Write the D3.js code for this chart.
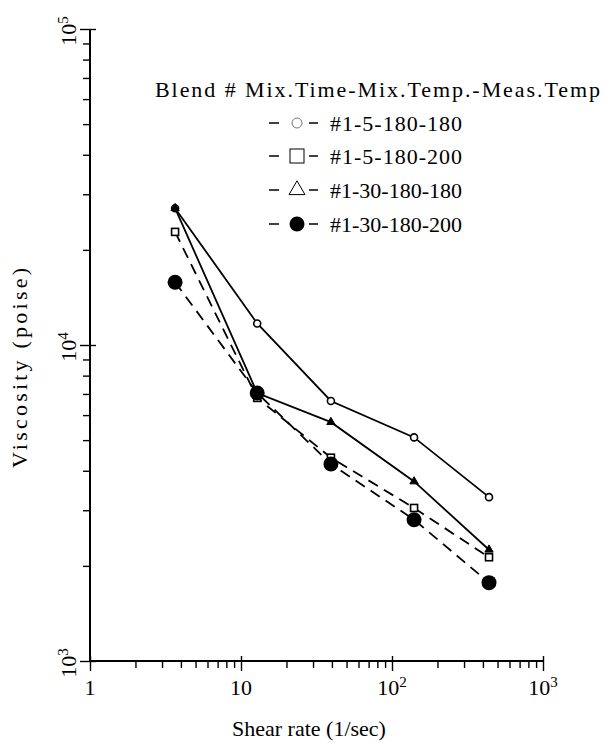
<!DOCTYPE html>
<html>
<head>
<meta charset="utf-8">
<script src="https://cdn.jsdelivr.net/npm/d3@7"></script>
<style>
  body { margin: 0; background: white; }
  text { font-family: "Liberation Serif", "DejaVu Serif", serif; fill: black; }
</style>
</head>
<body>
<div id="wykres"></div>
<script>

// shear rate (1/sec) and viscosity (poise)
var shearRate = [3.66, 12.8, 39.4, 140, 439];
var visc_5_180_180 = [27100, 11700, 6650, 5100, 3300];
var visc_5_180_200 = [22800, 6800, 4400, 3050, 2130];
var visc_30_180_180 = [27100, 7050, 5700, 3700, 2250];
var visc_30_180_200 = [15800, 7050, 4200, 2800, 1770];

var seriesNames = ["#1-5-180-180", "#1-5-180-200", "#1-30-180-180", "#1-30-180-200"];
var seriesMarkers = ["circle", "square", "triangle", "dot"];
var seriesDashed = [false, true, false, true];

var xTickValues = [1, 10, 100, 1000];
var xTickExp = ["", "", "2", "3"];
var xTickBase = ["1", "10", "10", "10"];
var yTickValues = [1e3, 1e4, 1e5];
var yTickExp = ["3", "4", "5"];

var legendTitle = "Blend # Mix.Time-Mix.Temp.-Meas.Temp";
var xTitle = "Shear rate (1/sec)";
var yTitle = "Viscosity (poise)";

var allSeries = [visc_5_180_180, visc_5_180_200, visc_30_180_180, visc_30_180_200];

var width = 606, height = 747;

var svg = d3.select("#wykres")
  .append("svg")
  .attr("width", width)
  .attr("height", height)
  .style("background", "white");

var xscale = d3.scaleLog()
  .domain([1, 1000])
  .range([90, 543]);

var yscale = d3.scaleLog()
  .domain([1000, 100000])
  .range([661, 29]);

// minor ticks 2..9 in every decade
var xMinor = [], yMinor = [];
[1, 10, 100].forEach(function (d) {
  for (var k = 2; k <= 9; k++) xMinor.push(d * k);
});
[1000, 10000].forEach(function (d) {
  for (var k = 2; k <= 9; k++) yMinor.push(d * k);
});

// x axis
var xAxis = svg.append("g")
  .attr("transform", "translate(0,661)");

xAxis.call(d3.axisBottom(xscale).tickValues(xMinor).tickSize(7).tickFormat(""));
xAxis.append("g").call(d3.axisBottom(xscale).tickValues(xTickValues).tickSize(10).tickFormat(""));
xAxis.selectAll("path.domain").attr("stroke-width", 2).attr("d", "M90,0H543");
xAxis.selectAll(".tick line").attr("stroke-width", 1.4);

// y axis
var yAxis = svg.append("g")
  .attr("transform", "translate(90,0)");

yAxis.call(d3.axisLeft(yscale).tickValues(yMinor).tickSize(7).tickFormat(""));
yAxis.append("g").call(d3.axisLeft(yscale).tickValues(yTickValues).tickSize(10).tickFormat(""));
yAxis.selectAll("path.domain").attr("stroke-width", 2).attr("d", "M0,661V29");
yAxis.selectAll(".tick line").attr("stroke-width", 1.4);

// major ticks go through the axis
yAxis.selectAll("g g .tick line").attr("x2", -10).attr("x1", 6);
xAxis.selectAll("g g .tick line").attr("y1", -5);

// x tick labels
var xLab = svg.append("g")
  .selectAll("text")
  .data(xTickValues)
  .enter().append("text")
  .attr("x", function (d) { return xscale(d); })
  .attr("y", 695)
  .attr("text-anchor", "middle")
  .style("font-size", "22px");

xLab.append("tspan").text(function (d, i) { return xTickBase[i]; });
xLab.append("tspan")
  .attr("dy", -8)
  .style("font-size", "15px")
  .text(function (d, i) { return xTickExp[i]; });

// y tick labels, rotated
var yLab = svg.append("g")
  .selectAll("text")
  .data(yTickValues)
  .enter().append("text")
  .attr("transform", function (d) { return "translate(76," + (yscale(d) + 2) + ")rotate(-90)"; })
  .attr("text-anchor", "middle")
  .style("font-size", "22px");

yLab.append("tspan").text("10");
yLab.append("tspan")
  .attr("dy", -8)
  .style("font-size", "15px")
  .text(function (d, i) { return yTickExp[i]; });

// axis titles
svg.append("text")
  .attr("x", 309)
  .attr("y", 736)
  .attr("text-anchor", "middle")
  .style("font-size", "22px")
  .text(xTitle);

svg.append("text")
  .attr("transform", "translate(27,368)rotate(-90)")
  .attr("text-anchor", "middle")
  .attr("textLength", 200)
  .style("font-size", "22px")
  .text(yTitle);

// lines
var line = d3.line()
  .x(function (d, i) { return xscale(shearRate[i]); })
  .y(function (d) { return yscale(d); });

allSeries.forEach(function (s, k) {
  svg.append("path")
    .datum(s)
    .attr("fill", "none")
    .attr("stroke", "black")
    .attr("stroke-width", 1.8)
    .attr("stroke-dasharray", seriesDashed[k] ? "11,7" : null)
    .attr("d", line);
});

function drawMarker(g, type, big) {
  if (type == "circle") {
    g.append("circle").attr("r", big ? 5 : 3.5)
      .attr("fill", "white").attr("stroke", big ? "#777" : "black").attr("stroke-width", big ? 1 : 1.6);
  } else if (type == "square") {
    var h = big ? 7 : 3.5;
    g.append("rect").attr("x", -h).attr("y", -h).attr("width", 2 * h).attr("height", 2 * h)
      .attr("fill", "white").attr("stroke", "black").attr("stroke-width", big ? 1 : 1.6);
  } else if (type == "triangle") {
    g.append("path")
      .attr("d", d3.symbol().type(d3.symbolTriangle).size(big ? 110 : 30)())
      .attr("fill", big ? "white" : "black").attr("stroke", "black").attr("stroke-width", 1);
  } else {
    g.append("circle").attr("r", 7.5).attr("fill", "black");
  }
}

// markers
allSeries.forEach(function (s, k) {
  svg.append("g")
    .selectAll("g")
    .data(s)
    .enter().append("g")
    .attr("transform", function (d, i) { return "translate(" + xscale(shearRate[i]) + "," + yscale(d) + ")"; })
    .each(function () { drawMarker(d3.select(this), seriesMarkers[k], false); });
});

// legend
svg.append("text")
  .attr("x", 155)
  .attr("y", 97)
  .attr("textLength", 445)
  .style("font-size", "22px")
  .text(legendTitle);

var legendRowY = [123, 156, 190, 224];

seriesNames.forEach(function (name, k) {
  var ly = legendRowY[k];
  svg.append("line")
    .attr("x1", 269).attr("x2", 279).attr("y1", ly).attr("y2", ly)
    .attr("stroke", "black").attr("stroke-width", 1.5);
  svg.append("line")
    .attr("x1", 309).attr("x2", 318).attr("y1", ly).attr("y2", ly)
    .attr("stroke", "black").attr("stroke-width", 1.5);
  var g = svg.append("g").attr("transform", "translate(297," + ly + ")");
  drawMarker(g, seriesMarkers[k], true);
  svg.append("text")
    .attr("x", 330)
    .attr("y", ly + 8)
    .attr("textLength", 132)
    .style("font-size", "22px")
    .text(name);
});

</script>
</body>
</html>
